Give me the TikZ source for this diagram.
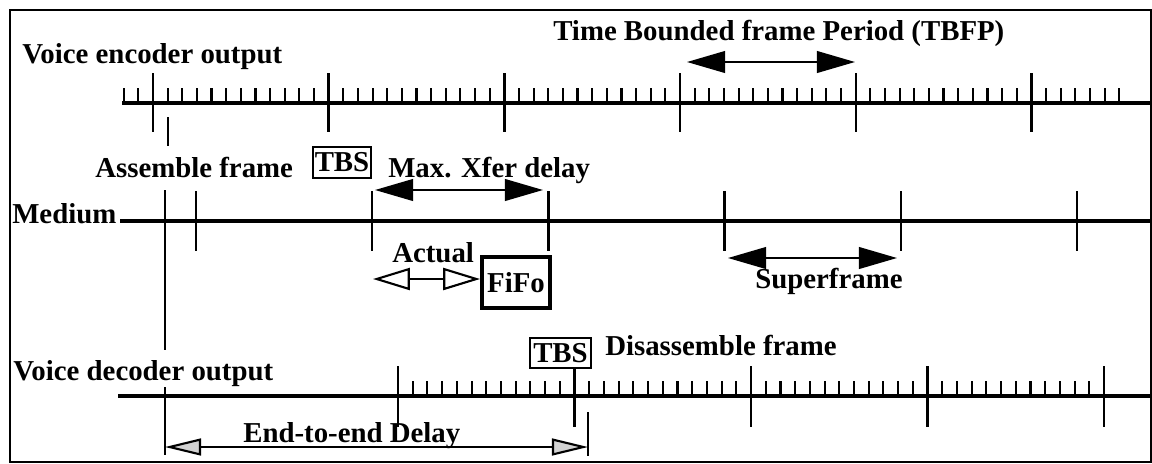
\documentclass[tikz,border=0pt]{standalone}
\usepackage{fontspec}
\setmainfont{Liberation Serif}
\usetikzlibrary{arrows.meta}

\tikzset{
  lbl/.style={font=\fontsize{20.5}{24}\selectfont\bfseries, inner sep=0pt},
  timeline/.style={line width=2.8pt},
  majortick/.style={line width=1.8pt},
  minortick/.style={line width=1.5pt},
  tbsbox/.style={lbl, draw, line width=1.4pt, fill=white},
  bigarrow/.style={line width=1.5pt,
    {Triangle[length=0.95cm,width=0.54cm]}-{Triangle[length=0.95cm,width=0.54cm]}},
  openarrow/.style={line width=1.5pt,
    {Triangle[open,length=0.92cm,width=0.55cm]}-{Triangle[open,length=0.92cm,width=0.55cm]}},
  greyarrow/.style={line width=1.5pt,
    {Triangle[fill=gray!35,length=0.9cm,width=0.42cm]}-{Triangle[fill=gray!35,length=0.9cm,width=0.42cm]}}
}

\begin{document}
\begin{tikzpicture}[x=0.025cm, y=-0.025cm]
  \useasboundingbox (0,0) rectangle (1152,463);

  % Frame
  \draw[line width=2pt] (10,10) rectangle (1151,462);

  % Voice encoder output
  \node[lbl, anchor=base west] (enc) at (22,63) {Voice encoder output};
  \draw[timeline] (122,103) -- (1152,103);
  \foreach \i in {0,...,68}
    \draw[minortick] (123.7+\i*14.64,88) -- (123.7+\i*14.64,103);
  \foreach \i in {0,...,5}
    \draw[majortick] (153+\i*175.7,73) -- (153+\i*175.7,132);

  % TBFP
  \node[lbl, anchor=base west] (tbfp) at (553,40) {Time Bounded frame Period (TBFP)};
  \coordinate (tbfpL) at (687,62);
  \coordinate (tbfpR) at (855,62);
  \draw[bigarrow] (tbfpL) -- (tbfpR);

  % Assemble frame
  \draw[majortick] (168,117) -- (168,146);
  \node[lbl, anchor=base west] (asm) at (95,177) {Assemble frame};
  \node[tbsbox, minimum width=1.45cm, minimum height=0.775cm] (tbsA) at (342,162.5) {TBS};
  \node[lbl, anchor=base west] (xfer) at (388,177) {Max. Xfer delay};

  % Medium
  \node[lbl, anchor=base west] (med) at (12,223) {Medium};
  \draw[timeline] (120,221) -- (1152,221);
  \foreach \i in {0,...,5}
    \draw[majortick] (196+\i*176.2,191) -- (196+\i*176.2,251);
  \coordinate (xferL) at (375,190);
  \coordinate (xferR) at (543,190);
  \draw[bigarrow] (xferL) -- (xferR);

  % Actual and FiFo
  \node[lbl, anchor=base west] (act) at (392,262) {Actual};
  \node[lbl, draw, line width=2.8pt, fill=white, minimum width=1.7cm,
        minimum height=1.275cm] (fifo) at (516,282.5) {FiFo};
  \coordinate (actL) at (373,279);
  \coordinate (actR) at (fifo.west |- actL);
  \draw[openarrow] (actL) -- (actR);

  % Superframe
  \coordinate (supL) at (728,258);
  \coordinate (supR) at (897,258);
  \draw[bigarrow] (supL) -- (supR);
  \node[lbl, anchor=base west] (sup) at (755,288) {Superframe};

  % Voice decoder output
  \node[lbl, anchor=base west] (dec) at (13,380) {Voice decoder output};
  \draw[timeline] (118,396) -- (1152,396);
  \foreach \i in {1,...,47}
    \draw[minortick] (398+\i*14.71,381) -- (398+\i*14.71,396);
  \foreach \i in {0,...,4}
    \draw[majortick] (398+\i*176.5,366) -- (398+\i*176.5,427);
  \node[tbsbox, minimum width=1.525cm, minimum height=0.75cm] (tbsB) at (560.5,353) {TBS};
  \node[lbl, anchor=base west] (disasm) at (605,355) {Disassemble frame};

  % End-to-end delay
  \draw[majortick] (165,190) -- (165,350);
  \draw[majortick] (165,387) -- (165,455);
  \draw[majortick] (588,412) -- (588,456);
  \node[lbl, anchor=base west] (e2e) at (243,442) {End-to-end Delay};
  \coordinate (e2eL) at (165,447);
  \coordinate (e2eR) at (588,447);
  \draw[greyarrow] (e2eL) -- (e2eR);
\end{tikzpicture}
\end{document}
